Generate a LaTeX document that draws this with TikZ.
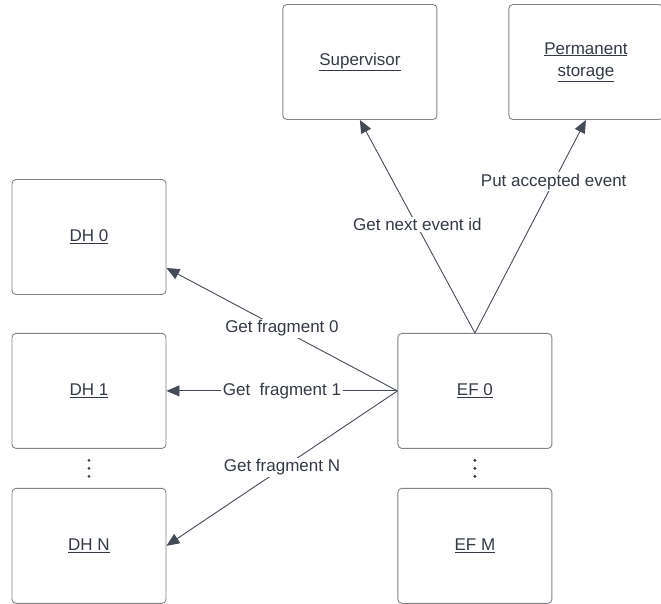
\documentclass[tikz,border=0pt]{standalone}
\usepackage{fontspec}
\setmainfont{Liberation Sans}
\usepackage{tikz}
\usetikzlibrary{positioning,arrows.meta,calc}
\definecolor{fontgray}{RGB}{52, 58, 68}
\definecolor{linegray}{RGB}{68, 75, 86}
\definecolor{boxgray}{RGB}{128, 130, 136}

\begin{document}
\begin{tikzpicture}[x=1pt, y=1pt, node distance=39pt and 231pt, >=Triangle,
	box/.style={draw=boxgray, rectangle, rounded corners=4pt, line width=0.9pt, minimum width=154pt, minimum height=115pt, text=fontgray, align=center, font=\fontsize{17}{22}\selectfont},
	msglabel/.style={fill=white, inner sep=1.5pt, text=fontgray, font=\fontsize{17}{20}\selectfont},
	dotmark/.style={fill=fontgray, draw=none},
	msgLine/.style={line width=0.9pt, -{Triangle[length=13pt, width=11pt]}, color=linegray}
	]
	\useasboundingbox (0,0) rectangle (661,-603);
	% data handlers
	\node[box](dh0) at (89,-237) {\underline{DH 0}};
	\node[box, below = of dh0, yshift=1pt](dh1) {\underline{DH 1}};
	\node[box, below = of dh1](dhn) {\underline{DH N}};
	\coordinate (dhdots) at ($(dh1.south)!0.5!(dhn.north)$);
	
	% event filters
	\node[box, right = of dh1](ef0) {\underline{EF 0}};
	\node[box, below = of ef0](efm) {\underline{EF M}};
	\coordinate (efdots) at ($(ef0.south)!0.5!(efm.north)$);
	
	\foreach \dy in {-8,0,8} {
		\fill[dotmark] ([yshift=\dy pt]dhdots) circle (1.6pt);
		\fill[dotmark] ([yshift=\dy pt]efdots) circle (1.6pt);
	}
	
	\node[box, above = 213pt of ef0, xshift=-115pt](sup) {\underline{Supervisor}};
	\node[box, above = 213pt of ef0, xshift=111pt](store) {\underline{Permanent}\\\underline{storage}};
	
	\draw [msgLine] (ef0.west) to [] node[msglabel, pos=0.5, yshift=1pt] {Get fragment 0} ([yshift=-31pt]dh0.east);
	\draw [msgLine] (ef0.west) to [] node[msglabel, pos=0.5] {Get~~fragment 1} (dh1.east);
	\draw [msgLine] (ef0.west) to [] node[msglabel, pos=0.5, yshift=1pt] {Get fragment N} (dhn.east);
	\draw [msgLine] (ef0.north) to [] node[msglabel, pos=0.5, yshift=2pt] {Get next event id} (sup.south);
	\draw [msgLine] (ef0.north) to [] node[msglabel, pos=0.71] {Put accepted event} (store.south);
\end{tikzpicture}
\end{document}
